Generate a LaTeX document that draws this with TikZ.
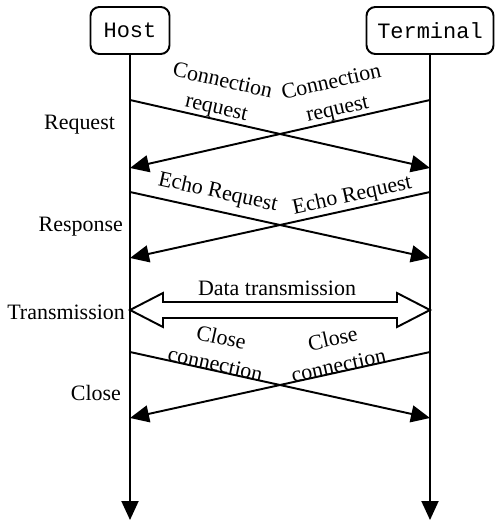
\documentclass[tikz,border=0pt]{standalone}
\usepackage{fontspec}
\setmainfont{Liberation Serif}
\setmonofont{Liberation Mono}
\usetikzlibrary{arrows.meta,calc}

\tikzset{
  actor/.style={draw, rounded corners=5pt, line width=1.1pt, font=\ttfamily\fontsize{12.5}{14}\selectfont, minimum height=0.94cm, inner sep=0pt},
  msg/.style={line width=1.1pt, -{Triangle[length=0.38cm,width=0.34cm]}},
  lbl/.style={font=\fontsize{12.5}{15.5}\selectfont, align=center, inner sep=1pt},
}

\begin{document}
\begin{tikzpicture}[x=0.02cm, y=-0.02cm]
\useasboundingbox (0,0) rectangle (496,520);

\node[actor, minimum width=1.58cm] (host) at (130,30.5) {Host};
\node[actor, minimum width=2.54cm] (term) at (430,30.5) {Terminal};

% lifelines
\coordinate (hend) at (130,520);
\coordinate (tend) at (430,520);
\draw[msg] (host.south) -- (hend);
\draw[msg] (term.south) -- (tend);

% message points
\foreach \n/\y in {1/100, 2/168, 3/192, 4/258, 5/310, 6/352, 7/418}{
  \coordinate (h\n) at (130,\y);
  \coordinate (t\n) at (430,\y);
}

\foreach \a/\b/\p/\d/\txt in {h1/t2/0.28/-1pt/{Connection\\request}, t1/h2/0.3/-1pt/{Connection\\request}, h3/t4/0.28/3pt/{Echo Request}, t3/h4/0.25/0pt/{Echo Request}, h6/t7/0.28/-2pt/{Close\\connection}, t6/h7/0.3/-2pt/{Close\\connection}}
  \draw[msg] (\a) -- node[lbl, sloped, above=\d, pos=\p] {\txt} (\b);

% data transmission
\draw[line width=1.1pt, fill=white] (h5) -- ++(33,-17) -- ++(0,9) -- ($(t5)+(-33,-8)$) -- ++(0,-9) -- (t5)
  -- ++(-33,17) -- ++(0,-9) -- ($(h5)+(33,8)$) -- ++(0,9) -- cycle;
\node[lbl, anchor=base] (data) at (277,295) {Data transmission};

% phases
\node[lbl, anchor=base east] (req) at (117,129.5) {Request};
\node[lbl, anchor=base east] (resp) at (125,231.5) {Response};
\node[lbl, anchor=base east] (trans) at (127,319.5) {Transmission};
\node[lbl, anchor=base east] (close) at (123,400.5) {Close};

\end{tikzpicture}
\end{document}
